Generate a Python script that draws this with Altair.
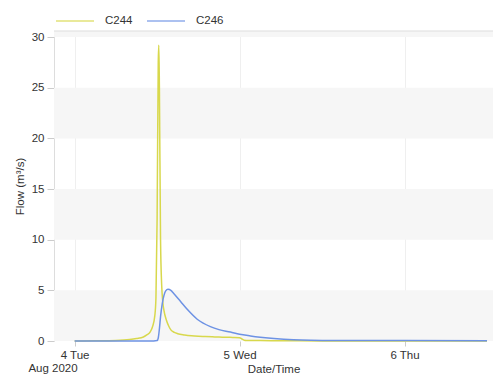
import altair as alt
import pandas as pd

# ---- data ----
c244_time = [
    "2020-08-04T00:00", "2020-08-04T03:00", "2020-08-04T06:00", "2020-08-04T08:00",
    "2020-08-04T09:00", "2020-08-04T10:00", "2020-08-04T10:30", "2020-08-04T11:00",
    "2020-08-04T11:20", "2020-08-04T11:40", "2020-08-04T11:50", "2020-08-04T12:00",
    "2020-08-04T12:10", "2020-08-04T12:15", "2020-08-04T12:20", "2020-08-04T12:30",
    "2020-08-04T12:40", "2020-08-04T12:50", "2020-08-04T13:00", "2020-08-04T13:20",
    "2020-08-04T13:40", "2020-08-04T14:00", "2020-08-04T14:30", "2020-08-04T15:00",
    "2020-08-04T16:00", "2020-08-04T17:00", "2020-08-04T18:00", "2020-08-04T19:00",
    "2020-08-04T20:00", "2020-08-04T21:00", "2020-08-04T22:00", "2020-08-04T23:00",
    "2020-08-05T00:00", "2020-08-05T00:20", "2020-08-05T00:40", "2020-08-05T01:00",
    "2020-08-05T03:00", "2020-08-05T06:00", "2020-08-05T12:00", "2020-08-06T00:00",
    "2020-08-06T12:00",
]
c244_flow = [
    0.0, 0.02, 0.06, 0.15,
    0.25, 0.4, 0.6, 0.9,
    1.4, 2.5, 4.3, 12.0,
    27.5, 29.2, 25.0, 10.0,
    5.5, 3.8, 3.0, 2.1,
    1.5, 1.1, 0.85, 0.72,
    0.6, 0.52, 0.47, 0.44,
    0.41, 0.39, 0.37, 0.35,
    0.32, 0.2, 0.08, 0.06,
    0.04, 0.03, 0.01, 0.005,
    0.0,
]

c246_time = [
    "2020-08-04T00:00", "2020-08-04T11:00", "2020-08-04T12:00", "2020-08-04T12:10",
    "2020-08-04T12:20", "2020-08-04T12:30", "2020-08-04T12:45", "2020-08-04T13:00",
    "2020-08-04T13:15", "2020-08-04T13:35", "2020-08-04T14:00", "2020-08-04T14:25",
    "2020-08-04T15:25", "2020-08-04T16:25", "2020-08-04T17:50", "2020-08-04T19:45",
    "2020-08-04T21:00", "2020-08-04T22:40", "2020-08-05T00:00", "2020-08-05T01:35",
    "2020-08-05T03:00", "2020-08-05T06:25", "2020-08-05T09:00", "2020-08-05T12:00",
    "2020-08-06T00:00", "2020-08-06T12:00",
]
c246_flow = [
    0.0, 0.0, 0.05, 0.3,
    1.2, 2.4, 3.7, 4.5,
    4.95, 5.1, 5.0, 4.7,
    3.9, 3.1, 2.15, 1.42,
    1.12, 0.88, 0.66, 0.5,
    0.38, 0.18, 0.09, 0.06,
    0.04, 0.03,
]

band_lo = [0, 10, 20, 30]
band_hi = [5, 15, 25, 30.6]

series_names = ["C244", "C246"]
series_colors = ["#d8d84c", "#6d92e4"]

W, H = 439, 310

df = pd.concat([
    pd.DataFrame({"time": c244_time, "flow": c244_flow, "series": "C244"}),
    pd.DataFrame({"time": c246_time, "flow": c246_flow, "series": "C246"}),
])
bands = pd.DataFrame({"lo": band_lo, "hi": band_hi})

x_scale = alt.Scale(domain=[alt.DateTime(year=2020, month=8, date=3, hours=21),
                            alt.DateTime(year=2020, month=8, date=6, hours=12, minutes=52)])
y_scale = alt.Scale(domain=[0, 30.6], nice=False)

band_layer = alt.Chart(bands).mark_rect(color="#f6f6f6").encode(
    x=alt.value(0), x2=alt.value(W),
    y=alt.Y("lo:Q", scale=y_scale),
    y2="hi:Q",
)

top_border = alt.Chart(pd.DataFrame({"v": [30.6]})).mark_rule(color="#dddddd", strokeWidth=1).encode(
    y=alt.Y("v:Q", scale=y_scale), x=alt.value(0), x2=alt.value(W)
)

lines = alt.Chart(df).mark_line(strokeWidth=1.5, interpolate="monotone").encode(
    x=alt.X("time:T", scale=x_scale, title="Date/Time",
            axis=alt.Axis(values=[alt.DateTime(year=2020, month=8, date=d) for d in [4, 5, 6]],
                          format="%-d %a", grid=True, gridColor="#efefef",
                          domain=False, tickColor="#cccccc", tickSize=5, labelPadding=3,
                          titlePadding=3)),
    y=alt.Y("flow:Q", scale=y_scale, title="Flow (m³/s)",
            axis=alt.Axis(values=[0, 5, 10, 15, 20, 25, 30], grid=False,
                          domainColor="#dddddd", tickColor="#cccccc", tickSize=7,
                          labelPadding=3, titlePadding=6)),
    color=alt.Color("series:N", scale=alt.Scale(domain=series_names, range=series_colors),
                    legend=alt.Legend(title=None, orient="none", legendX=1, legendY=-17,
                                      direction="horizontal", symbolType="stroke",
                                      symbolSize=1444, symbolStrokeWidth=1.5,
                                      symbolOpacity=0.75, clipHeight=14,
                                      labelOffset=10, columnPadding=13,
                                      labelFontSize=11.5, labelColor="#333333")),
)

month_label = alt.Chart(pd.DataFrame({"t": ["Aug 2020"]})).mark_text(
    fontSize=11.5, color="#333333", font="Liberation Sans", align="center", baseline="middle"
).encode(text="t:N", x=alt.value(-1), y=alt.value(H + 28))

chart = alt.layer(band_layer, top_border, lines, month_label).properties(
    width=W, height=H, padding={"left": 6, "top": 6, "right": 0, "bottom": 0}
).configure_view(stroke=None).configure_axis(
    labelFont="Liberation Sans", titleFont="Liberation Sans", labelFontSize=11.5,
    titleFontSize=11.5, labelColor="#333333", titleColor="#333333", titleFontWeight="normal",
).configure_legend(labelFont="Liberation Sans")

chart.save("out.html", embed_options={"renderer": "svg", "actions": False})
